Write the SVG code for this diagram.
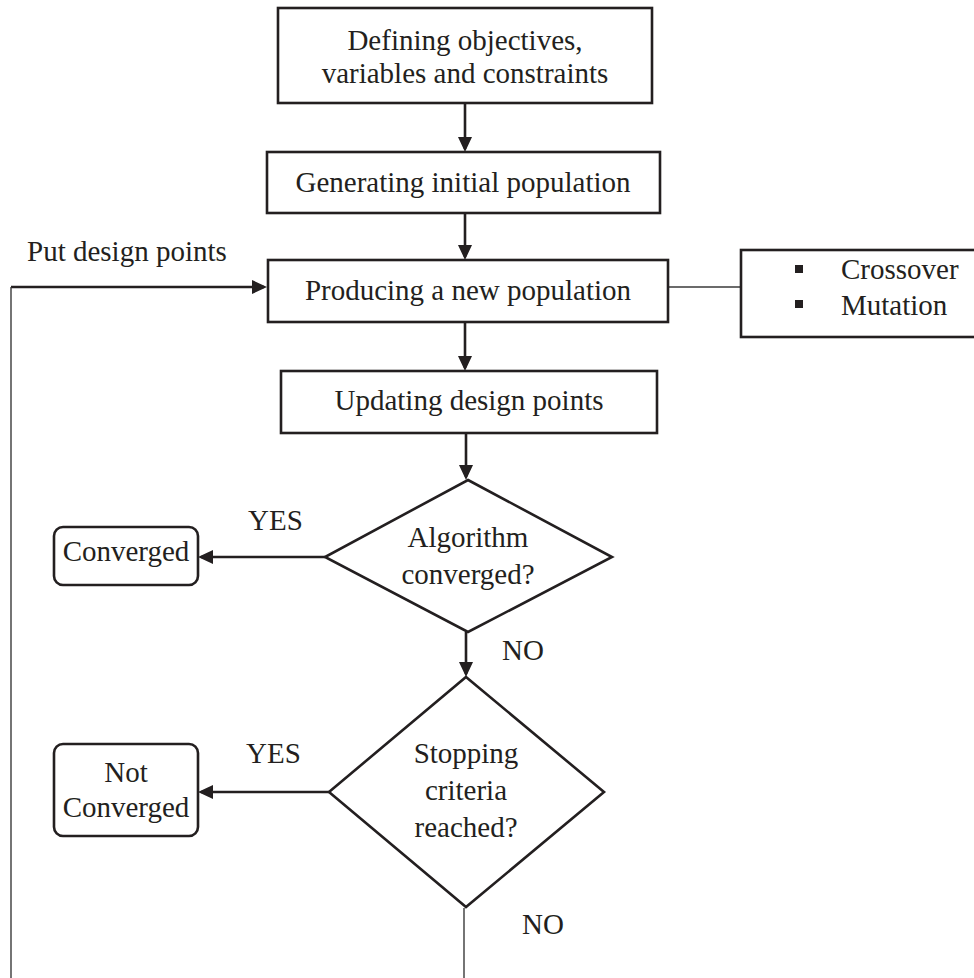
<svg xmlns="http://www.w3.org/2000/svg" width="974" height="978" viewBox="0 0 974 978">
<style>
text{font-family:"Liberation Serif","Times New Roman",serif;font-size:29px;fill:#231f20}
.c{text-anchor:middle}
.box{fill:#fff;stroke:#231f20;stroke-width:2.6}
.thick{fill:none;stroke:#231f20;stroke-width:2.6}
.thin{fill:none;stroke:#3a3a3a;stroke-width:1.4}
</style>
<defs>
<marker id="ah" viewBox="0 0 15 14" refX="12" refY="7" markerWidth="15" markerHeight="14" markerUnits="userSpaceOnUse" orient="auto">
<path d="M0,0 L15,7 L0,14 z" fill="#231f20"/>
</marker>
</defs>
<rect width="974" height="978" fill="#fff"/>
<g id="connectors">
<line class="thick" x1="465" y1="103" x2="465" y2="149" marker-end="url(#ah)"/>
<line class="thick" x1="465" y1="213" x2="465" y2="257" marker-end="url(#ah)"/>
<line class="thick" x1="11" y1="287" x2="264" y2="287" marker-end="url(#ah)"/>
<line class="thin" x1="11" y1="287" x2="11" y2="978"/>
<line class="thin" x1="668" y1="287" x2="741" y2="287"/>
<line class="thick" x1="465" y1="322" x2="465" y2="368" marker-end="url(#ah)"/>
<line class="thick" x1="466" y1="433" x2="466" y2="477" marker-end="url(#ah)"/>
<line class="thick" x1="325" y1="557" x2="201" y2="557" marker-end="url(#ah)"/>
<line class="thick" x1="466" y1="632" x2="466" y2="674" marker-end="url(#ah)"/>
<line class="thick" x1="329" y1="792" x2="201" y2="792" marker-end="url(#ah)"/>
<line class="thin" x1="464" y1="908" x2="464" y2="978"/>
<text x="27" y="261">Put design points</text>
<text x="248" y="530">YES</text>
<text x="502" y="660">NO</text>
<text x="246" y="763">YES</text>
<text x="522" y="934">NO</text>
</g>
<g id="define">
<rect class="box" x="278" y="8" width="374" height="95"/>
<text class="c" x="465" y="50">Defining objectives,</text>
<text class="c" x="465" y="83">variables and constraints</text>
</g>
<g id="generate">
<rect class="box" x="267" y="152" width="393" height="61"/>
<text class="c" x="463" y="192">Generating initial population</text>
</g>
<g id="produce">
<rect class="box" x="268" y="260" width="400" height="62"/>
<text class="c" x="468" y="300">Producing a new population</text>
</g>
<g id="operators">
<rect class="box" x="741" y="250" width="240" height="87"/>
<rect x="795" y="265" width="8" height="8" fill="#231f20"/>
<rect x="795" y="300" width="8" height="8" fill="#231f20"/>
<text x="841" y="279">Crossover</text>
<text x="841" y="315">Mutation</text>
</g>
<g id="update">
<rect class="box" x="281" y="371" width="376" height="62"/>
<text class="c" x="469" y="410">Updating design points</text>
</g>
<g id="decision1">
<polygon class="box" points="468,480 612,557 468,632 325,557"/>
<text class="c" x="468" y="547">Algorithm</text>
<text class="c" x="468" y="584">converged?</text>
</g>
<g id="converged">
<rect class="box" x="54" y="527" width="144" height="58" rx="9"/>
<text class="c" x="126" y="561">Converged</text>
</g>
<g id="decision2">
<polygon class="box" points="466,677 604,792 466,907 329,792"/>
<text class="c" x="466" y="763">Stopping</text>
<text class="c" x="466" y="800">criteria</text>
<text class="c" x="466" y="837">reached?</text>
</g>
<g id="notconverged">
<rect class="box" x="54" y="744" width="144" height="92" rx="9"/>
<text class="c" x="126" y="782">Not</text>
<text class="c" x="126" y="817">Converged</text>
</g>
</svg>
